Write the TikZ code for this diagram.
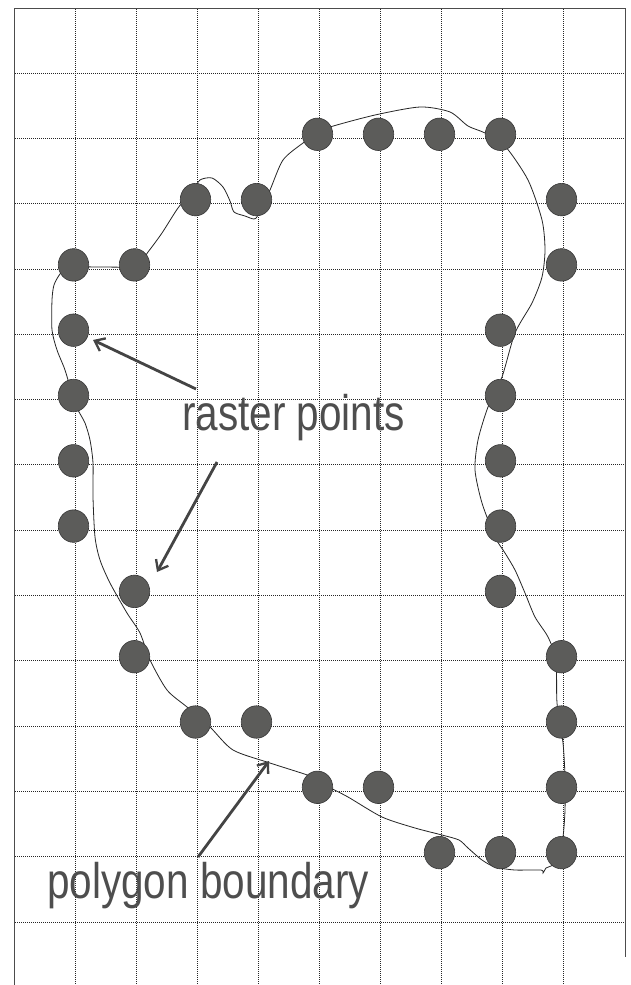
\documentclass[tikz,border=0pt]{standalone}
\usepackage{fontspec}
\setmainfont{Liberation Sans}
\usetikzlibrary{arrows.meta,shapes.geometric}
\definecolor{dotfill}{RGB}{92,92,90}
\definecolor{dotline}{RGB}{55,55,55}
\definecolor{arrowc}{RGB}{68,68,68}
\definecolor{textc}{RGB}{78,78,78}
\tikzset{
  gridline/.style={black!85, line width=0.75pt, dash pattern=on 1.1pt off 0.9pt},
  frameline/.style={black!70, line width=0.8pt},
  rasterdot/.style={ellipse, minimum width=30.5pt, minimum height=32.5pt, inner sep=0pt, fill=dotfill, draw=dotline, line width=0.6pt},
  boundary/.style={black!85, line width=0.8pt},
  pointer/.style={arrowc, line width=2.8pt, -{Straight Barb[length=9pt,width=14pt,line width=2.3pt]}},
  label/.style={inner sep=0pt, anchor=base west, text=textc, font=\fontsize{50}{60}\selectfont}
}
\begin{document}
\begin{tikzpicture}[x=1pt,y=-1pt]
\useasboundingbox (0,0) rectangle (630,985);
\fill[white] (0,0) rectangle (630,985);
% grid
\foreach \i in {0,...,8} \draw[gridline] ({75+61*\i},9) -- ({75+61*\i},985);
\foreach \j in {0,...,13} \draw[gridline] (15,{73+65.3*\j}) -- (624,{73+65.3*\j});
% frame
\draw[frameline] (14,985) -- (14,8) -- (625,8) -- (625,957);
% boundary
\draw[boundary] plot[smooth cycle, tension=0.45] coordinates {
 (283,160) (303,143) (318,133) (330,127) (375,115) (420,107) (450,112) (468,126)
 (485,133) (505,146) (528,180) (542,220) (545,250) (542,277) (532,303) (515,333)
 (502,377) (488,407) (478,440) (475,470) (482,503) (495,537) (505,553) (515,570)
 (525,593) (535,617) (548,637) (556,660) (557,703) (563,743) (565,777) (565,810)
 (563,837) (558,860) (551,866) (546,868) (543,873) (541,870) (515,870) (495,867)
 (482,860) (468,848) (459,840) (442,835) (415,828) (382,817) (348,797) (325,785)
 (313,777) (270,763) (233,750) (210,727) (187,707) (167,690) (150,660) (140,633)
 (127,613) (110,583) (100,560) (95,537) (93,497) (93,463) (90,440) (85,423)
 (78,410) (73,397) (65,370) (57,350) (52,330) (52,300) (54,285) (60,274)
 (68,267) (100,267) (136,266) (148,252) (162,233) (178,208) (192,192)
 (200,180) (212,178) (223,187) (230,201) (234,212) (245,216) (254,219)
 (258,215) (270,190)};
% raster points
\foreach \i/\j in {4/1,5/1,6/1,7/1, 2/2,3/2,8/2, 0/3,1/3,8/3, 0/4,7/4, 0/5,7/5,
  0/6,7/6, 0/7,7/7, 1/8,7/8, 1/9,8/9, 2/10,3/10,8/10, 4/11,5/11,8/11, 6/12,7/12,8/12}
  \node[rasterdot] (d-\i-\j) at ({73.5+61*\i},{69+65.3*\j}) {};
% labels
\node[label] (lraster) at (182,430) {\scalebox{0.81}[1]{raster points}};
\node[label] (lpoly) at (47,898) {\scalebox{0.81}[1]{polygon boundary}};
% arrows
\coordinate (a1s) at (196,389);
\coordinate (a1e) at (93,340);
\coordinate (a2s) at (217,462);
\coordinate (a2e) at (157,572);
\coordinate (a3s) at (198,857);
\coordinate (a3e) at (269,761);
\draw[pointer] (a1s) -- (a1e);
\draw[pointer] (a2s) -- (a2e);
\draw[pointer] (a3s) -- (a3e);
\end{tikzpicture}
\end{document}
